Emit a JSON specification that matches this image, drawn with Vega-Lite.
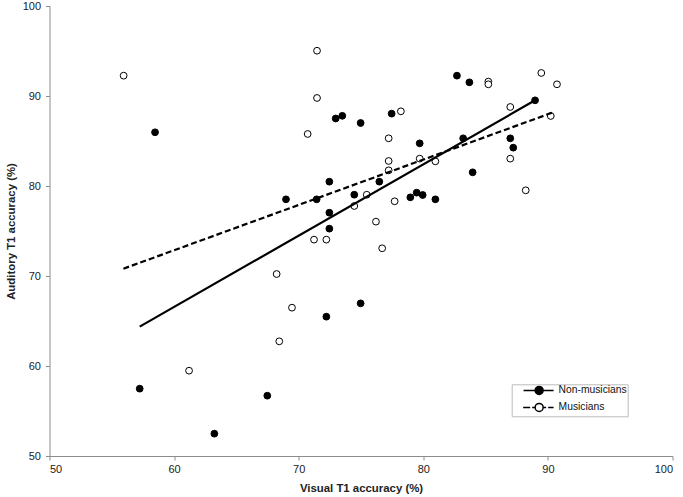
{
  "$schema": "https://vega.github.io/schema/vega-lite/v6.json",
  "width": 623,
  "height": 450,
  "autosize": {"type": "none"},
  "padding": {"left": 49.5, "top": 6, "right": 10.5, "bottom": 41},
  "background": "white",
  "config": {
    "view": {"stroke": null},
    "font": "Liberation Sans",
    "axis": {
      "grid": false,
      "domainColor": "#8c8c8c",
      "domainWidth": 1,
      "tickColor": "#8c8c8c",
      "tickSize": 4,
      "labelFont": "Liberation Sans",
      "labelFontSize": 11,
      "labelColor": "#222",
      "titleFont": "Liberation Sans",
      "titleFontSize": 11.4,
      "titleFontWeight": "bold",
      "titleColor": "#222"
    },
    "legend": {
      "orient": "none",
      "legendX": 462.2,
      "legendY": 378.3,
      "strokeColor": "#bbbbbb",
      "fillColor": "white",
      "padding": 1,
      "symbolSize": 64,
      "symbolStrokeColor": "black",
      "symbolStrokeWidth": 1.5,
      "symbolOffset": 21.3,
      "labelOffset": 14.3,
      "labelFont": "Liberation Sans",
      "labelFontSize": 10.3,
      "labelColor": "#111",
      "labelExpr": "datum.label + '\u00a0\u00a0\u00a0'",
      "rowPadding": 2
    }
  },
  "datasets": {
    "pts": [
      {"group": "Musicians", "visual": 55.95, "auditory": 92.26},
      {"group": "Musicians", "visual": 71.47, "auditory": 95.03},
      {"group": "Musicians", "visual": 71.47, "auditory": 89.78},
      {"group": "Musicians", "visual": 70.72, "auditory": 85.78},
      {"group": "Musicians", "visual": 78.2, "auditory": 88.3},
      {"group": "Musicians", "visual": 77.22, "auditory": 85.3},
      {"group": "Musicians", "visual": 77.22, "auditory": 82.78},
      {"group": "Musicians", "visual": 77.22, "auditory": 81.74},
      {"group": "Musicians", "visual": 79.71, "auditory": 83.04},
      {"group": "Musicians", "visual": 80.97, "auditory": 82.74},
      {"group": "Musicians", "visual": 74.46, "auditory": 77.78},
      {"group": "Musicians", "visual": 75.46, "auditory": 79.03},
      {"group": "Musicians", "visual": 77.7, "auditory": 78.3},
      {"group": "Musicians", "visual": 76.2, "auditory": 76.04},
      {"group": "Musicians", "visual": 71.23, "auditory": 74.04},
      {"group": "Musicians", "visual": 72.22, "auditory": 74.04},
      {"group": "Musicians", "visual": 76.7, "auditory": 73.08},
      {"group": "Musicians", "visual": 68.23, "auditory": 70.22},
      {"group": "Musicians", "visual": 69.46, "auditory": 66.48},
      {"group": "Musicians", "visual": 68.44, "auditory": 62.74},
      {"group": "Musicians", "visual": 61.2, "auditory": 59.48},
      {"group": "Musicians", "visual": 85.22, "auditory": 91.6},
      {"group": "Musicians", "visual": 85.22, "auditory": 91.3},
      {"group": "Musicians", "visual": 89.47, "auditory": 92.56},
      {"group": "Musicians", "visual": 90.73, "auditory": 91.3},
      {"group": "Musicians", "visual": 86.98, "auditory": 88.78},
      {"group": "Musicians", "visual": 90.23, "auditory": 87.78},
      {"group": "Musicians", "visual": 86.98, "auditory": 83.04},
      {"group": "Musicians", "visual": 88.22, "auditory": 79.52},
      {"group": "Non-musicians", "visual": 58.47, "auditory": 85.97},
      {"group": "Non-musicians", "visual": 57.24, "auditory": 57.48},
      {"group": "Non-musicians", "visual": 63.23, "auditory": 52.48},
      {"group": "Non-musicians", "visual": 67.48, "auditory": 56.7},
      {"group": "Non-musicians", "visual": 72.22, "auditory": 65.48},
      {"group": "Non-musicians", "visual": 74.97, "auditory": 66.96},
      {"group": "Non-musicians", "visual": 68.98, "auditory": 78.52},
      {"group": "Non-musicians", "visual": 71.44, "auditory": 78.52},
      {"group": "Non-musicians", "visual": 72.46, "auditory": 80.48},
      {"group": "Non-musicians", "visual": 72.46, "auditory": 77.03},
      {"group": "Non-musicians", "visual": 72.46, "auditory": 75.26},
      {"group": "Non-musicians", "visual": 72.97, "auditory": 87.5},
      {"group": "Non-musicians", "visual": 73.5, "auditory": 87.8},
      {"group": "Non-musicians", "visual": 74.97, "auditory": 87.0},
      {"group": "Non-musicians", "visual": 77.46, "auditory": 88.04},
      {"group": "Non-musicians", "visual": 74.46, "auditory": 79.03},
      {"group": "Non-musicians", "visual": 76.47, "auditory": 80.48},
      {"group": "Non-musicians", "visual": 79.71, "auditory": 84.74},
      {"group": "Non-musicians", "visual": 78.96, "auditory": 78.74},
      {"group": "Non-musicians", "visual": 79.47, "auditory": 79.26},
      {"group": "Non-musicians", "visual": 79.95, "auditory": 79.0},
      {"group": "Non-musicians", "visual": 80.97, "auditory": 78.52},
      {"group": "Non-musicians", "visual": 82.7, "auditory": 92.26},
      {"group": "Non-musicians", "visual": 83.7, "auditory": 91.52},
      {"group": "Non-musicians", "visual": 83.2, "auditory": 85.3},
      {"group": "Non-musicians", "visual": 83.96, "auditory": 81.52},
      {"group": "Non-musicians", "visual": 86.98, "auditory": 85.3},
      {"group": "Non-musicians", "visual": 87.22, "auditory": 84.26},
      {"group": "Non-musicians", "visual": 88.97, "auditory": 89.52}
    ],
    "fits": [
      {"group": "Non-musicians", "visual": 57.24, "auditory": 64.37},
      {"group": "Non-musicians", "visual": 88.97, "auditory": 89.52},
      {"group": "Musicians", "visual": 55.93, "auditory": 70.81},
      {"group": "Musicians", "visual": 90.49, "auditory": 88.22}
    ]
  },
  "layer": [
    {
      "data": {"name": "pts"},
      "mark": {"type": "point", "filled": true, "size": 46, "stroke": "black", "strokeWidth": 1, "opacity": 1},
      "encoding": {
        "x": {
          "field": "visual", "type": "quantitative",
          "scale": {"domain": [50, 100], "nice": false, "zero": false},
          "axis": {"values": [50, 60, 70, 80, 90, 100], "title": "Visual T1 accuracy (%)", "labelPadding": 3, "titlePadding": 8}
        },
        "y": {
          "field": "auditory", "type": "quantitative",
          "scale": {"domain": [50, 100], "nice": false, "zero": false},
          "axis": {"values": [50, 60, 70, 80, 90, 100], "title": "Auditory T1 accuracy (%)", "labelPadding": 5, "titlePadding": 6}
        },
        "fill": {
          "field": "group", "type": "nominal", "title": null,
          "scale": {"domain": ["Non-musicians", "Musicians"], "range": ["black", "white"]}
        }
      }
    },
    {
      "data": {"name": "fits"},
      "transform": [{"filter": "datum.group === 'Non-musicians'"}],
      "mark": {"type": "line", "color": "black", "strokeWidth": 2.2},
      "encoding": {
        "x": {"field": "visual", "type": "quantitative"},
        "y": {"field": "auditory", "type": "quantitative"}
      }
    },
    {
      "data": {"name": "fits"},
      "transform": [{"filter": "datum.group === 'Musicians'"}],
      "mark": {"type": "line", "color": "black", "strokeWidth": 2.2, "strokeDash": [6, 3]},
      "encoding": {
        "x": {"field": "visual", "type": "quantitative"},
        "y": {"field": "auditory", "type": "quantitative"}
      }
    },
    {
      "data": {"name": "pts"},
      "transform": [{"filter": "datum.group === 'none'"}],
      "mark": {"type": "point", "filled": true, "size": 64, "stroke": "black", "strokeWidth": 1.5, "opacity": 1},
      "encoding": {
        "x": {"field": "visual", "type": "quantitative"},
        "y": {"field": "auditory", "type": "quantitative"},
        "fill": {
          "field": "group", "type": "nominal", "title": null,
          "scale": {"domain": ["Non-musicians", "Musicians"], "range": ["black", "white"]}
        },
        "shape": {
          "field": "group", "type": "nominal", "title": null,
          "scale": {
            "domain": ["Non-musicians", "Musicians"],
            "range": [
              "M-3.9,0H-1M1,0H3.6M1,0A1,1,0,1,1,-1,0A1,1,0,1,1,1,0Z",
              "M-4,0H-2.25M-1.75,0H-1M1,0H1.75M2.25,0H3.6M1,0A1,1,0,1,1,-1,0A1,1,0,1,1,1,0Z"
            ]
          }
        }
      }
    }
  ]
}
